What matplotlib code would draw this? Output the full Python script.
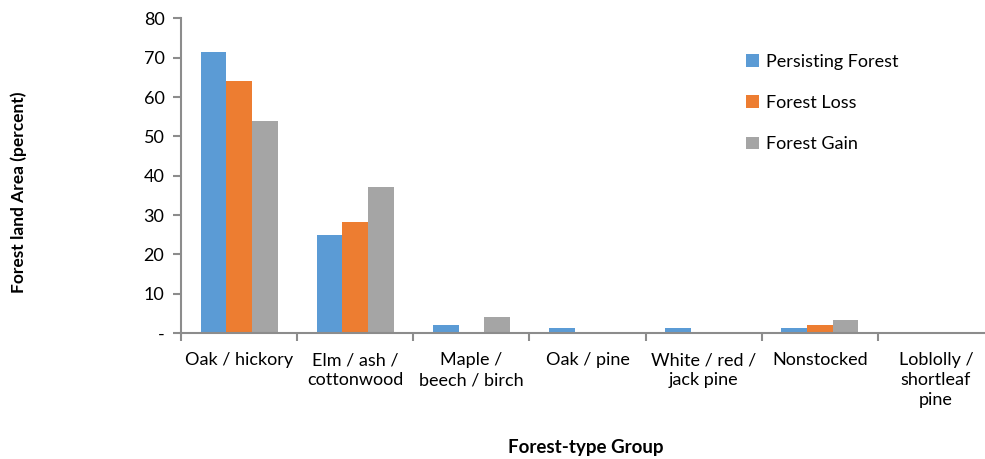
import numpy as np
import matplotlib.pyplot as plt

categories = ["Oak / hickory", "Elm / ash /\ncottonwood", "Maple /\nbeech / birch",
              "Oak / pine", "White / red /\njack pine", "Nonstocked",
              "Loblolly /\nshortleaf\npine"]
persisting = [71.5, 25.0, 2.0, 1.2, 1.2, 1.2, 0.2]
loss = [64.2, 28.3, 0.2, 0.1, 0.1, 2.0, 0.3]
gain = [54.0, 37.2, 4.0, 0.3, 0.1, 3.3, 0.3]
series_names = ["Persisting Forest", "Forest Loss", "Forest Gain"]
colors = ["#5B9BD5", "#ED7D31", "#A5A5A5"]
yticks = [0, 10, 20, 30, 40, 50, 60, 70, 80]
ytick_labels = ["-", "10", "20", "30", "40", "50", "60", "70", "80"]

plt.rcParams['font.family'] = ['Lato', 'DejaVu Sans']

fig = plt.figure(figsize=(9.85, 4.59), dpi=100)
ax = fig.add_axes([0.1838, 0.2745, 0.8254, 0.6852])

x = np.arange(len(categories))
w = 0.221
for i, (vals, name, c) in enumerate(zip([persisting, loss, gain], series_names, colors)):
    ax.bar(x + (i - 1) * w, vals, width=w, color=c, label=name)

axis_color = "#8c8c8c"
ax.set_xlim(-0.5, len(categories) - 0.5)
ax.set_ylim(0, 80)
ax.set_yticks(yticks)
ax.set_yticklabels(ytick_labels, fontsize=13)
ax.set_xticks(x)
ax.set_xticklabels(categories, fontsize=13, linespacing=1.3, va="top")
ax.set_xticks(np.arange(-0.5, len(categories), 1.0), minor=True)
ax.tick_params(axis="x", which="major", length=0, pad=14)
ax.tick_params(axis="x", which="minor", length=6, color=axis_color, width=1.5)
ax.tick_params(axis="y", length=6, color=axis_color, width=1.5, pad=6)

for s in ["top", "right"]:
    ax.spines[s].set_visible(False)
for s in ["left", "bottom"]:
    ax.spines[s].set_color(axis_color)
    ax.spines[s].set_linewidth(1.5)

fig.text(586 / 985, 1 - 448 / 459, "Forest-type Group", fontsize=13.5,
         fontweight="bold", ha="center", va="center")
fig.text(0.019, 0.582, "Forest land Area (percent)", rotation=90, fontsize=12.5,
         fontweight="bold", ha="center", va="center")

ax.legend(loc="upper left", bbox_to_anchor=(0.675, 0.94), frameon=False, fontsize=13,
          handlelength=0.7, handleheight=0.7, handletextpad=0.4, labelspacing=1.4)

fig.savefig("out.png", dpi=100)
